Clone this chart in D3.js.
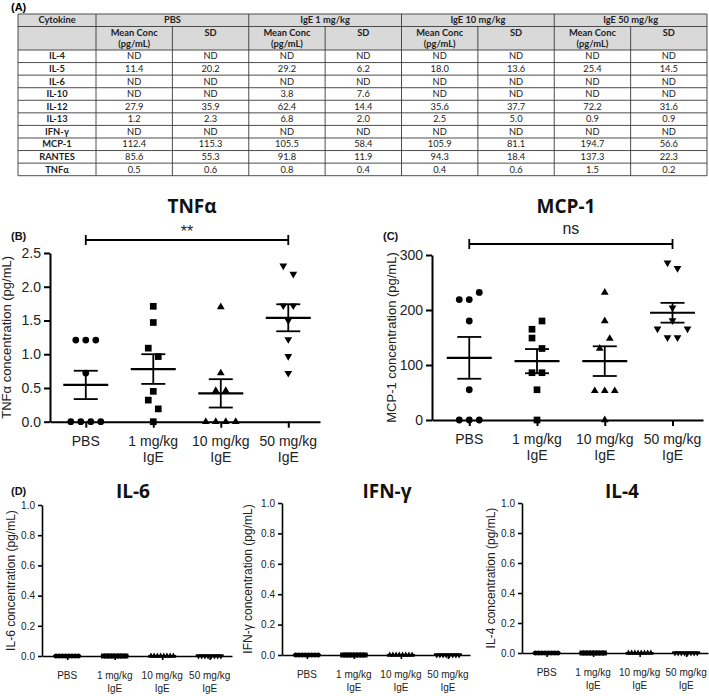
<!DOCTYPE html>
<html>
<head>
<meta charset="utf-8">
<script src="https://cdn.jsdelivr.net/npm/d3@7"></script>
<style>
  body { margin: 0; background: #fff; }
  svg { display: block; }
</style>
</head>
<body>
<div id="chart"></div>
<script>
// ---- (A) table ----
const cytokines = ["IL-4", "IL-5", "IL-6", "IL-10", "IL-12", "IL-13", "IFN-γ", "MCP-1", "RANTES", "TNFα"];
const tableGroups = ["PBS", "IgE 1 mg/kg", "IgE 10 mg/kg", "IgE 50 mg/kg"];
const pbsMean = ["ND", "11.4", "ND", "ND", "27.9", "1.2", "ND", "112.4", "85.6", "0.5"];
const pbsSD = ["ND", "20.2", "ND", "ND", "35.9", "2.3", "ND", "115.3", "55.3", "0.6"];
const ige1Mean = ["ND", "29.2", "ND", "3.8", "62.4", "6.8", "ND", "105.5", "91.8", "0.8"];
const ige1SD = ["ND", "6.2", "ND", "7.6", "14.4", "2.0", "ND", "58.4", "11.9", "0.4"];
const ige10Mean = ["ND", "18.0", "ND", "ND", "35.6", "2.5", "ND", "105.9", "94.3", "0.4"];
const ige10SD = ["ND", "13.6", "ND", "ND", "37.7", "5.0", "ND", "81.1", "18.4", "0.6"];
const ige50Mean = ["ND", "25.4", "ND", "ND", "72.2", "0.9", "ND", "194.7", "137.3", "1.5"];
const ige50SD = ["ND", "14.5", "ND", "ND", "31.6", "0.9", "ND", "56.6", "22.3", "0.2"];

// ---- scatter plots ----
const doseLabels = [["PBS"], ["1 mg/kg", "IgE"], ["10 mg/kg", "IgE"], ["50 mg/kg", "IgE"]];

// values listed left-to-right inside each overlapping cluster
const tnfPBS = [1.21, 1.21, 1.21, 0.72, 0, 0, 0, 0];
const tnf1 = [1.71, 1.47, 1.09, 0.965, 0.45, 0.32, 0.19, 0];
const tnf10 = [1.7, 0.72, 0.46, 0.46, 0, 0, 0, 0];
const tnf50 = [2.31, 2.19, 1.72, 1.72, 1.5, 1.22, 0.97, 0.72];
const tnfMean = [0.545, 0.78, 0.42, 1.54];
const tnfSem = [0.21, 0.22, 0.21, 0.2];

const mcpPBS = [219, 219, 232, 180, 55, 0, 0, 0];
const mcp1 = [165, 180, 149, 130, 86, 86, 55, 0];
const mcp10 = [232, 180, 130, 148, 53, 53, 53, 0];
const mcp50 = [286, 276, 204, 181, 166, 150, 150, 166];
const mcpMean = [113, 107, 107, 195];
const mcpSem = [38, 22, 27, 18];

// not detected: every animal at zero
const il6Values = [[0, 0, 0, 0, 0, 0, 0, 0], [0, 0, 0, 0, 0, 0, 0, 0], [0, 0, 0, 0, 0, 0, 0, 0], [0, 0, 0, 0, 0, 0, 0, 0]];
const ifnValues = [[0, 0, 0, 0, 0, 0, 0, 0], [0, 0, 0, 0, 0, 0, 0, 0], [0, 0, 0, 0, 0, 0, 0, 0], [0, 0, 0, 0, 0, 0, 0, 0]];
const il4Values = [[0, 0, 0, 0, 0, 0, 0, 0], [0, 0, 0, 0, 0, 0, 0, 0], [0, 0, 0, 0, 0, 0, 0, 0], [0, 0, 0, 0, 0, 0, 0, 0]];
const ndMean = [0, 0, 0, 0];
const ndSem = [0, 0, 0, 0];

const symbols = [d3.symbolCircle, d3.symbolSquare, d3.symbolTriangle, d3.symbolTriangle];
const plotFont = "'Liberation Sans', Arial, sans-serif";
const narrowFont = "'Liberation Sans Narrow', 'Liberation Sans', Arial, sans-serif";
const titleFont = "'Open Sans', sans-serif";

const svg = d3.select("#chart").append("svg")
  .attr("width", 709)
  .attr("height", 696)
  .style("background", "#fff");

// ---------- table ----------
function drawTable() {
  const left = 18, right = 707, firstW = 78;
  const colW = (right - left - firstW) / 8;
  const top = 14, h1 = 26.5, h2 = 50, rowH = 12.57;
  const bottom = h2 + rowH * cytokines.length;
  const colX = (i) => (i === 0 ? left : left + firstW + (i - 1) * colW);
  const g = svg.append("g").style("font-family", "Lato, 'Open Sans', sans-serif").style("font-size", "9.3px");

  g.append("rect").attr("x", left).attr("y", top).attr("width", right - left).attr("height", h2 - top)
    .attr("fill", "#d9d9d9");

  const line = (x1, y1, x2, y2) => g.append("line").attr("x1", x1).attr("y1", y1).attr("x2", x2).attr("y2", y2)
    .attr("stroke", "#3a3a3a").attr("stroke-width", 0.9);

  // horizontal rules
  [top, h1, h2].forEach((y) => line(left, y, right, y));
  cytokines.forEach((c, i) => line(left, h2 + rowH * (i + 1), right, h2 + rowH * (i + 1)));
  // vertical rules
  line(left, top, left, bottom);
  line(right, top, right, bottom);
  for (let i = 1; i <= 8; i++) {
    line(colX(i), i % 2 === 1 ? top : h1, colX(i), bottom);
  }

  const text = (x, y, s, bold) => g.append("text").attr("x", x).attr("y", y).attr("text-anchor", "middle")
    .attr("font-weight", bold ? "bold" : "normal").attr("fill", "#222").text(s);

  text(left + firstW / 2, h1 - 3.5, "Cytokine", true);
  tableGroups.forEach((name, i) => text(colX(1 + i * 2) + colW, h1 - 3.5, name, true));
  for (let i = 0; i < 4; i++) {
    const cx = colX(1 + i * 2) + colW / 2;
    text(cx, h1 + 9.5, "Mean Conc", true);
    text(cx, h1 + 20, "(pg/mL)", true);
    text(colX(2 + i * 2) + colW / 2, h1 + 9.5, "SD", true);
  }

  const columns = [pbsMean, pbsSD, ige1Mean, ige1SD, ige10Mean, ige10SD, ige50Mean, ige50SD];
  cytokines.forEach((c, r) => {
    const y = h2 + rowH * r + 9.4;
    text(left + firstW / 2, y, c, true);
    columns.forEach((col, j) => text(colX(j + 1) + colW / 2, y, col[r], false));
  });

  svg.append("text").attr("x", 11).attr("y", 11).attr("font-family", plotFont).attr("font-weight", "bold")
    .attr("font-size", "11px").text("(A)");
}

// spread points that overlap vertically, GraphPad-style
function swarm(values, y, step, gap) {
  const order = values.map((v, i) => i).sort((a, b) => values[a] - values[b] || a - b);
  const offsets = new Array(values.length);
  let cluster = [];
  const flush = () => {
    cluster.sort((a, b) => a - b).forEach((idx, k) => {
      offsets[idx] = (k - (cluster.length - 1) / 2) * step;
    });
  };
  order.forEach((i) => {
    if (cluster.length && y(values[cluster[0]]) - y(values[i]) >= gap) {
      flush();
      cluster = [];
    }
    cluster.push(i);
  });
  flush();
  return offsets;
}

function scatterPanel(p) {
  const x = d3.scalePoint().domain(d3.range(4)).range([p.x0, p.x1]).padding(0.5).align(p.align);
  const y = d3.scaleLinear().domain(p.domain).range([p.yBottom, p.yTop]);
  const g = svg.append("g");

  // data points
  p.values.forEach((vals, i) => {
    const offs = swarm(vals, y, p.step, p.gap);
    g.selectAll(null).data(vals).join("path")
      .attr("d", d3.symbol(symbols[i], p.sizes[i]))
      .attr("transform", (v, k) => `translate(${x(i) + offs[k]},${y(v)})${i === 3 ? " rotate(180)" : ""}`)
      .attr("fill", "#000");
  });

  // mean ± SEM
  p.means.forEach((m, i) => {
    const cx = x(i);
    g.append("line").attr("x1", cx - p.meanHalf).attr("x2", cx + p.meanHalf)
      .attr("y1", y(m)).attr("y2", y(m)).attr("stroke", "#000").attr("stroke-width", p.meanW);
    g.append("line").attr("x1", cx).attr("x2", cx)
      .attr("y1", y(m - p.sems[i])).attr("y2", y(m + p.sems[i])).attr("stroke", "#000").attr("stroke-width", p.barW);
    [m - p.sems[i], m + p.sems[i]].forEach((v) => {
      g.append("line").attr("x1", cx - p.capHalf).attr("x2", cx + p.capHalf)
        .attr("y1", y(v)).attr("y2", y(v)).attr("stroke", "#000").attr("stroke-width", p.barW);
    });
  });

  // axes
  const yAxis = g.append("g").attr("transform", `translate(${p.x0},0)`)
    .call(d3.axisLeft(y).tickValues(p.ticks).tickFormat(d3.format(p.fmt)).tickSize(p.tickLen).tickSizeOuter(0));
  const xAxis = g.append("g").attr("transform", `translate(0,${p.yBottom})`)
    .call(d3.axisBottom(x).tickSize(p.tickLen).tickSizeOuter(0).tickFormat(""));
  [yAxis, xAxis].forEach((a) => {
    a.select(".domain").attr("stroke", "#000").attr("stroke-width", p.axisW);
    a.selectAll(".tick line").attr("stroke", "#000").attr("stroke-width", p.axisW);
  });
  yAxis.selectAll(".tick text").attr("font-family", p.font).attr("font-size", p.tickFont).attr("fill", "#222")
    .attr("x", -p.tickLen - 3);

  doseLabels.forEach((lines, i) => {
    const t = g.append("text").attr("x", x(i)).attr("y", p.yBottom + p.labelDy).attr("text-anchor", "middle")
      .attr("font-family", p.font).attr("font-size", p.tickFont).attr("fill", "#222");
    lines.forEach((s, k) => t.append("tspan").attr("x", x(i)).attr("dy", k === 0 ? 0 : p.lineH).text(s));
  });

  g.append("text")
    .attr("transform", `translate(${p.ylabX},${(p.yTop + p.yBottom) / 2}) rotate(-90)`)
    .attr("text-anchor", "middle").attr("font-family", p.ylabFamily || p.font).attr("font-size", p.ylabFont)
    .attr("fill", "#222")
    .text(p.ylab);

  svg.append("text").attr("x", p.titleX).attr("y", p.titleY).attr("text-anchor", "middle")
    .attr("font-family", titleFont).attr("font-weight", "bold").attr("font-size", p.titleFont).attr("fill", "#111")
    .text(p.title);

  return x;
}

drawTable();

const big = {
  step: 10, gap: 12, sizes: [36, 45, 26, 26], meanHalf: 22.5, capHalf: 12, meanW: 2.2, barW: 1.8,
  tickLen: 6, axisW: 2, tickFont: "14px", font: plotFont, labelDy: 24, lineH: 16, ylabFont: "13px",
  align: 0.53, titleFont: "19px", titleY: 213
};

const tnfX = scatterPanel(Object.assign({}, big, {
  values: [tnfPBS, tnf1, tnf10, tnf50], means: tnfMean, sems: tnfSem,
  x0: 50, x1: 320, yTop: 253, yBottom: 421.7, domain: [0, 2.5], ticks: [0, 0.5, 1, 1.5, 2, 2.5], fmt: ".1f",
  ylab: "TNFα concentration (pg/mL)", ylabX: 11, title: "TNFα", titleX: 192
}));

const mcpX = scatterPanel(Object.assign({}, big, {
  values: [mcpPBS, mcp1, mcp10, mcp50], means: mcpMean, sems: mcpSem, align: 0.55,
  x0: 432, x1: 703, yTop: 255, yBottom: 420, domain: [0, 300], ticks: [0, 100, 200, 300], fmt: "d",
  ylab: "MCP-1 concentration (pg/mL)", ylabX: 396, title: "MCP-1", titleX: 566
}));

// significance brackets
function bracket(x, y, label, size, dy) {
  const g = svg.append("g").attr("stroke", "#000").attr("stroke-width", 1.8);
  g.append("line").attr("x1", x(0)).attr("x2", x(3)).attr("y1", y).attr("y2", y);
  [x(0), x(3)].forEach((cx) => g.append("line").attr("x1", cx).attr("x2", cx).attr("y1", y - 5).attr("y2", y + 5));
  svg.append("text").attr("x", (x(0) + x(3)) / 2).attr("y", y + dy).attr("text-anchor", "middle")
    .attr("font-family", plotFont).attr("font-size", size).attr("fill", "#222").text(label);
}
bracket(tnfX, 240, "**", "16px", -3);
bracket(mcpX, 244, "ns", "16px", -10);

const panelLabel = (x, y, s) => svg.append("text").attr("x", x).attr("y", y).attr("font-family", plotFont)
  .attr("font-weight", "bold").attr("font-size", "11px").attr("fill", "#111").text(s);
panelLabel(11, 240, "(B)");
panelLabel(383, 240, "(C)");
panelLabel(11, 495, "(D)");

const small = {
  means: ndMean, sems: ndSem, step: 3.2, gap: 12, sizes: [20, 25, 15, 15], meanHalf: 14, capHalf: 8,
  meanW: 2, barW: 1.5, tickLen: 4, axisW: 1.6, tickFont: "10px", font: narrowFont, labelDy: 23, lineH: 13,
  ylabFont: "12px", ylabFamily: plotFont, align: 0.53, domain: [0, 1], ticks: [0, 0.2, 0.4, 0.6, 0.8, 1],
  fmt: ".1f", titleFont: "19px", titleY: 498
};

scatterPanel(Object.assign({}, small, {
  values: il6Values, x0: 42, x1: 232, yTop: 505, yBottom: 656,
  ylab: "IL-6 concentration (pg/mL)", ylabX: 15, title: "IL-6", titleX: 133
}));
scatterPanel(Object.assign({}, small, {
  values: ifnValues, x0: 282, x1: 470, yTop: 503, yBottom: 655,
  ylab: "IFN-γ concentration (pg/mL)", ylabX: 252, title: "IFN-γ", titleX: 387
}));
scatterPanel(Object.assign({}, small, {
  values: il4Values, x0: 522, x1: 708, yTop: 503, yBottom: 653,
  ylab: "IL-4 concentration (pg/mL)", ylabX: 495, title: "IL-4", titleX: 622
}));
</script>
</body>
</html>
